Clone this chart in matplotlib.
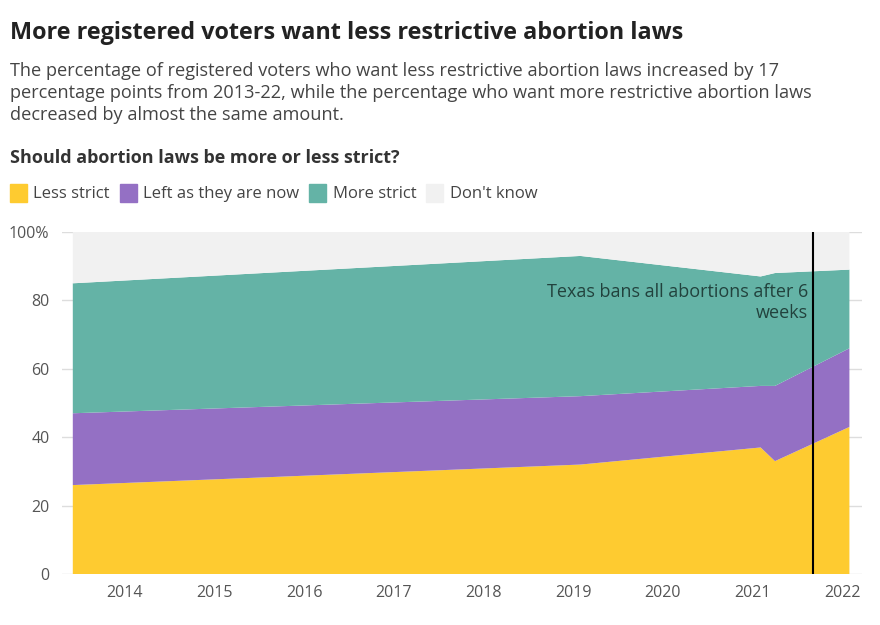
import matplotlib.pyplot as plt
import matplotlib.patches as mpatches

plt.rcParams['font.family'] = ['Open Sans', 'DejaVu Sans']

# survey dates (fractional years) and shares in %
dates = [2013.42, 2019.08, 2021.09, 2021.25, 2022.08]
less_strict = [26, 32, 37, 33, 43]
left_as_is = [21, 20, 18, 22, 23]
more_strict = [38, 41, 32, 33, 23]
dont_know = [15, 7, 13, 12, 11]

labels = ["Less strict", "Left as they are now", "More strict", "Don't know"]
colors = ["#FECB30", "#9470C4", "#64B3A6", "#F1F1F1"]
years = list(range(2014, 2023))
texas_ban = 2021.67

fig = plt.figure(figsize=(8.8, 6.25), dpi=100)
ax = fig.add_axes([0.0705, 0.0816, 0.909, 0.5472])

ax.stackplot(dates, less_strict, left_as_is, more_strict, dont_know,
             colors=colors, linewidth=0, zorder=2)
ax.axvline(texas_ban, color='black', lw=1.5, zorder=4)
ax.text(texas_ban - 0.05, 79.5, "Texas bans all abortions after 6\nweeks",
        ha='right', va='center', fontsize=13, color='#22423d',
        linespacing=1.2, zorder=5)

ax.set_xlim(2013.30, 2022.22)
ax.set_ylim(0, 100)
ax.set_xticks(years)
ax.set_xticklabels([str(y) for y in years])
ax.set_yticks([0, 20, 40, 60, 80, 100])
ax.set_yticklabels(['0', '20', '40', '60', '80', '100%'])
ax.grid(axis='y', color='#dddddd', lw=1, zorder=1)
ax.tick_params(axis='both', length=0, labelsize=11.5, colors='#555555')
ax.tick_params(axis='x', pad=8)
ax.tick_params(axis='y', pad=9)
for s in ax.spines.values():
    s.set_visible(False)

fig.text(0.011, 0.947, "More registered voters want less restrictive abortion laws",
         fontsize=16.8, fontweight='bold', color='#222222', va='center')
fig.text(0.011, 0.851,
         "The percentage of registered voters who want less restrictive abortion laws increased by 17\n"
         "percentage points from 2013-22, while the percentage who want more restrictive abortion laws\n"
         "decreased by almost the same amount.",
         fontsize=13.1, color='#444444', va='center', linespacing=1.27)
fig.text(0.011, 0.747, "Should abortion laws be more or less strict?",
         fontsize=13, fontweight='bold', color='#333333', va='center')

# legend row
lx = 0.011
for lab, col in zip(labels, colors):
    fig.patches.append(mpatches.Rectangle((lx, 0.677), 0.0195, 0.028,
                                          transform=fig.transFigure,
                                          color=col, figure=fig))
    t = fig.text(lx + 0.027, 0.690, lab, fontsize=12, color='#444444', va='center')
    fig.canvas.draw()
    bb = t.get_window_extent()
    lx = bb.x1 / fig.bbox.width + 0.011

fig.savefig('out.png', dpi=100)
